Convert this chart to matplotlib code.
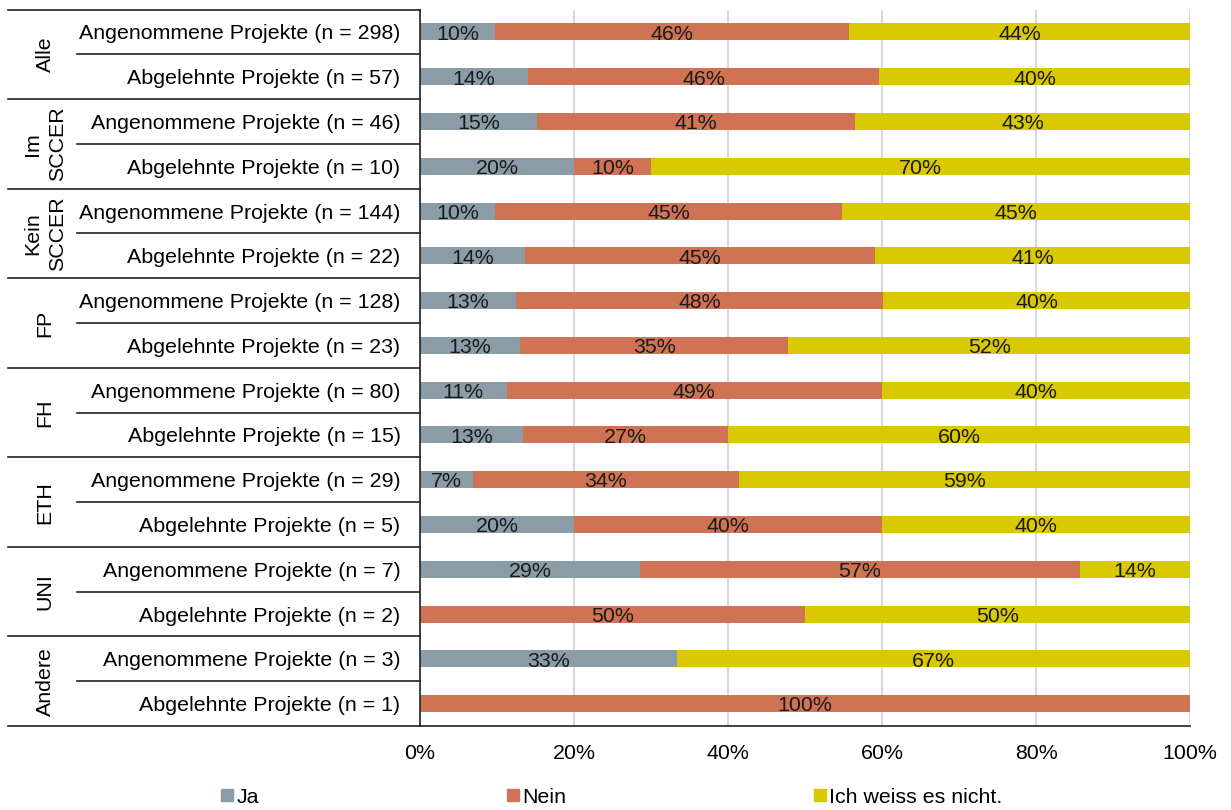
import numpy as np
import matplotlib
matplotlib.use("Agg")
from matplotlib import pyplot as plt
from matplotlib.patches import Patch
from matplotlib.transforms import blended_transform_factory

plt.rcParams['font.family'] = ['Liberation Sans', 'DejaVu Sans']

groups = ["Alle", "Im\nSCCER", "Kein\nSCCER", "FP", "FH", "ETH", "UNI", "Andere"]
rowLabels = [
    "Angenommene Projekte (n = 298)", "Abgelehnte Projekte (n = 57)",
    "Angenommene Projekte (n = 46)", "Abgelehnte Projekte (n = 10)",
    "Angenommene Projekte (n = 144)", "Abgelehnte Projekte (n = 22)",
    "Angenommene Projekte (n = 128)", "Abgelehnte Projekte (n = 23)",
    "Angenommene Projekte (n = 80)", "Abgelehnte Projekte (n = 15)",
    "Angenommene Projekte (n = 29)", "Abgelehnte Projekte (n = 5)",
    "Angenommene Projekte (n = 7)", "Abgelehnte Projekte (n = 2)",
    "Angenommene Projekte (n = 3)", "Abgelehnte Projekte (n = 1)",
]
# answer counts per row
ja = [29, 8, 7, 2, 14, 3, 16, 3, 9, 2, 2, 1, 2, 0, 1, 0]
nein = [137, 26, 19, 1, 65, 10, 61, 8, 39, 4, 10, 2, 4, 1, 0, 1]
weissNicht = [132, 23, 20, 7, 65, 9, 51, 12, 32, 9, 17, 2, 1, 1, 2, 0]
seriesNames = ["Ja", "Nein", "Ich weiss es nicht."]
colors = ["#8A9DA7", "#D07254", "#D9C900"]
xTicks = [0, 0.2, 0.4, 0.6, 0.8, 1.0]
xTickLabels = ["0%", "20%", "40%", "60%", "80%", "100%"]

counts = np.array([ja, nein, weissNicht], dtype=float)
shares = counts / counts.sum(axis=0)

W, H = 1231, 810
fs = 15.4
fig = plt.figure(figsize=(W / 100, H / 100), dpi=100)
ax = fig.add_axes([420 / W, 1 - 726 / H, 770 / W, (726 - 9.6) / H])

y = np.arange(len(rowLabels))
left = np.zeros(len(rowLabels))
for s in range(3):
    ax.barh(y, shares[s], left=left, height=0.38, color=colors[s],
            label=seriesNames[s], zorder=2)
    for i in range(len(y)):
        v = shares[s][i]
        if v > 0:
            # round half up, like the percent format in spreadsheets
            pct = int(np.floor(v * 100 + 0.5))
            ax.text(left[i] + v / 2, y[i] + 0.05, f"{pct}%",
                    ha="center", va="center", fontsize=fs, color="#1a1a1a", zorder=3)
    left += shares[s]

ax.set_xlim(0, 1)
ax.set_ylim(len(y) - 0.5, -0.5)
ax.set_xticks(xTicks)
ax.set_xticklabels(xTickLabels, fontsize=fs)
ax.set_yticks(y)
ax.set_yticklabels(rowLabels, fontsize=fs)
ax.tick_params(axis="y", length=0, pad=14)
ax.tick_params(axis="x", length=0, pad=13)
ax.xaxis.grid(True, color="#D9D9D9", linewidth=1.5, zorder=0)
ax.set_axisbelow(True)
for side in ["top", "right"]:
    ax.spines[side].set_visible(False)
ax.spines["left"].set_color("#222222")
ax.spines["bottom"].set_color("#222222")
ax.spines["left"].set_linewidth(1.2)
ax.spines["bottom"].set_linewidth(1.2)

# group separators and group names on the left
trans = blended_transform_factory(fig.transFigure, ax.transData)
x0, xInner, xEnd = 8 / W, 77 / W, 420 / W
for g, name in enumerate(groups):
    top = 2 * g - 0.5
    ax.plot([x0, xEnd], [top, top], transform=trans, color="#222222",
            linewidth=1.2, clip_on=False)
    ax.plot([xInner, xEnd], [top + 1, top + 1], transform=trans, color="#222222",
            linewidth=1.2, clip_on=False)
    ax.text(45 / W, top + 1, name, transform=trans, rotation=90, ha="center",
            va="center", fontsize=fs, multialignment="center", linespacing=1.35)
ax.plot([x0, xEnd], [len(y) - 0.5, len(y) - 0.5], transform=trans,
        color="#222222", linewidth=1.2, clip_on=False)

handles = [Patch(color=c) for c in colors]
fig.legend(handles, seriesNames, loc="center", bbox_to_anchor=(0.497, 0.016),
           ncol=3, frameon=False, fontsize=fs, handlelength=0.55, handleheight=0.55,
           handletextpad=0.15, columnspacing=11.6)

fig.savefig("out.png", dpi=100)
